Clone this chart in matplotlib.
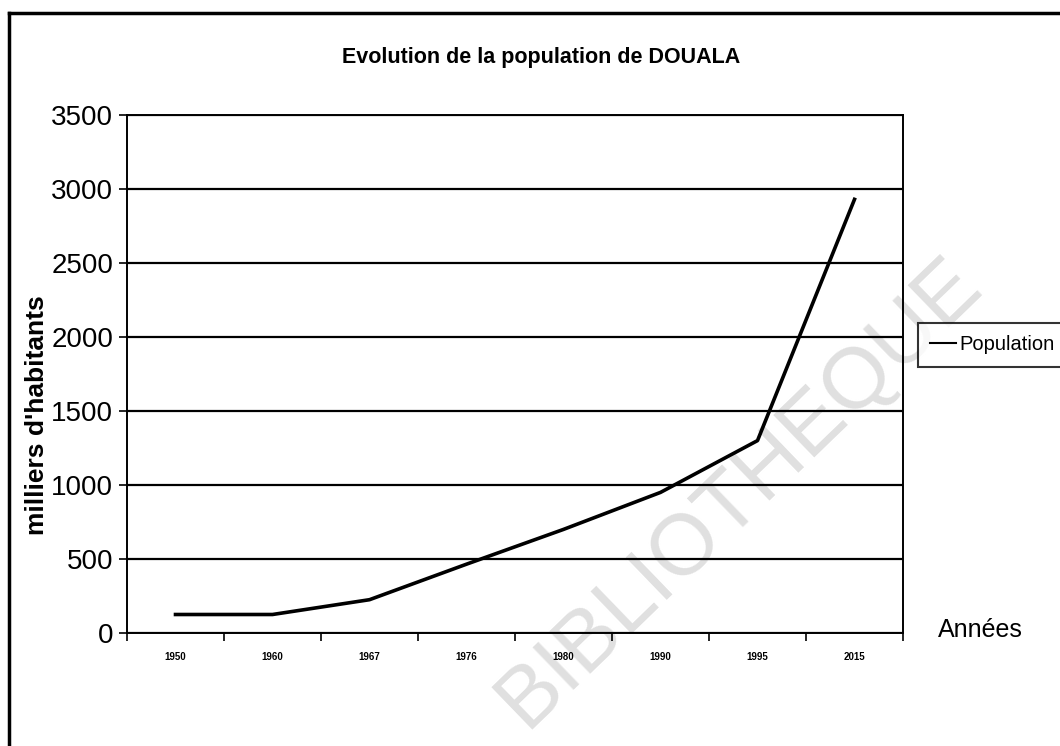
import numpy as np
import matplotlib
matplotlib.use("Agg")
import matplotlib.pyplot as plt
from matplotlib.lines import Line2D

plt.rcParams['font.family'] = ['Liberation Sans', 'DejaVu Sans']

# data (milliers d'habitants)
years = ["1950", "1960", "1967", "1976", "1980", "1990", "1995", "2015"]
population = [125, 125, 225, 465, 700, 950, 1300, 2930]
y_ticks = [0, 500, 1000, 1500, 2000, 2500, 3000, 3500]

fig = plt.figure(figsize=(10.6, 7.46), dpi=100)
ax = fig.add_axes([127 / 1060, 1 - 633 / 746, 776 / 1060, 518 / 746])
ax.patch.set_visible(False)

x = np.arange(len(years))
ax.plot(x, population, color='black', lw=2.6, label="Population", zorder=3)

ax.set_xlim(-0.5, len(years) - 0.5)
ax.set_ylim(0, 3500)
ax.set_yticks(y_ticks)
ax.set_yticklabels([str(v) for v in y_ticks], fontsize=20)
ax.set_xticks(x)
ax.set_xticklabels(years, fontsize=7, fontweight='bold')
ax.tick_params(axis='x', length=0, pad=14)
# tick marks between categories
ax.set_xticks(np.arange(-0.5, len(years)), minor=True)
ax.tick_params(axis='x', which='minor', length=6, width=1.2, direction='out')
ax.tick_params(axis='y', length=6, width=1.2, direction='out', pad=4)

ax.yaxis.grid(True, color='black', lw=1.6)
ax.set_axisbelow(True)
for s in ax.spines.values():
    s.set_color('black')
    s.set_linewidth(1.4)

ax.set_ylabel("milliers d'habitants", fontsize=19, fontweight='bold')
ax.yaxis.set_label_coords(-0.1, 0.42)
fig.text(541 / 1060, 1 - 57 / 746, "Evolution de la population de DOUALA",
         fontsize=15.5, fontweight='bold', ha='center', va='center')
fig.text(938 / 1060, 1 - 630 / 746, "Années", fontsize=18, ha='left', va='center')

leg = ax.legend(loc='center left', bbox_to_anchor=(918 / 1060, 1 - 345 / 746),
                bbox_transform=fig.transFigure, frameon=True, fontsize=14.5,
                fancybox=False, handlelength=1.3, handletextpad=0.15,
                borderpad=0.6, borderaxespad=0)
leg.get_frame().set_edgecolor('black')
leg.get_frame().set_linewidth(1.5)
for h in leg.get_lines():
    h.set_linewidth(1.5)

# watermark, behind the chart
fig.text(740 / 1060, 1 - 492 / 746, "BIBLIOTHEQUE", fontsize=62, color='#e0e0e0',
         rotation=44, ha='center', va='center', zorder=-1)

# outer chart border (left and top only visible)
fig.add_artist(Line2D([9 / 1060, 9 / 1060], [0, 1 - 13 / 746], color='black', lw=2.5,
                      transform=fig.transFigure))
fig.add_artist(Line2D([9 / 1060, 1], [1 - 13 / 746, 1 - 13 / 746], color='black', lw=2.5,
                      transform=fig.transFigure))

fig.savefig("out.png", dpi=100)
